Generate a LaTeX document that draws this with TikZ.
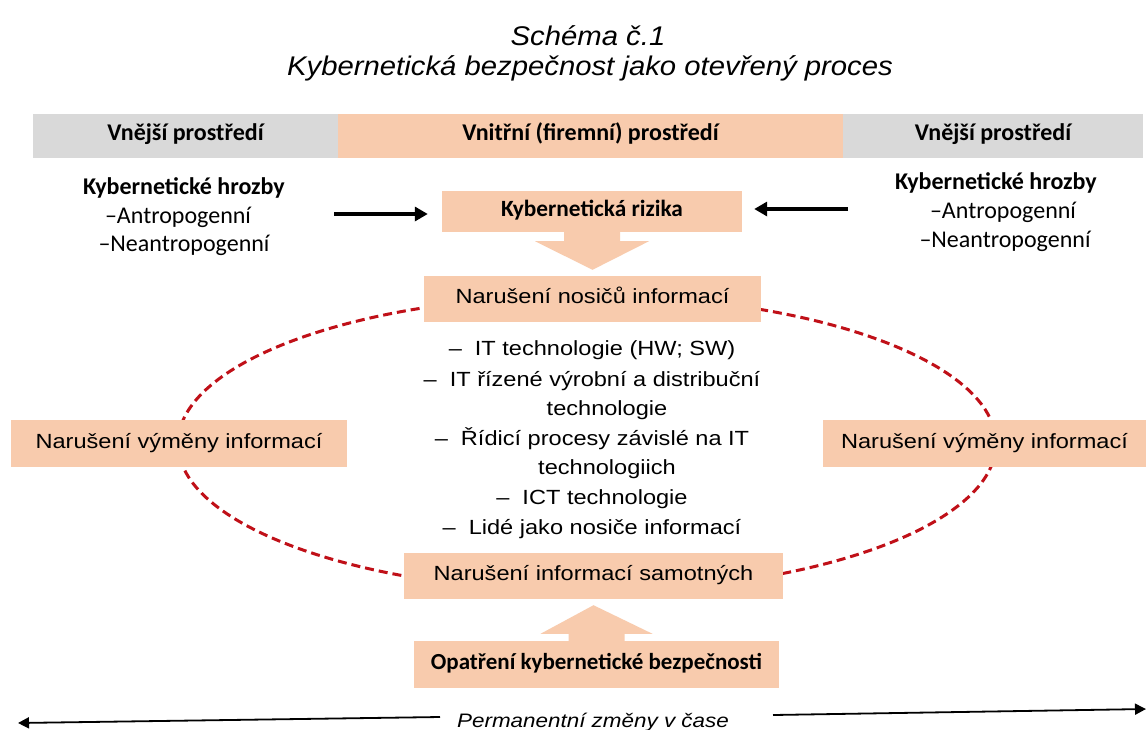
\documentclass[tikz,border=0pt]{standalone}
\usepackage{fontspec}
\setmainfont{Liberation Sans}
\newfontfamily\arx[FakeStretch=1.15]{Liberation Sans}
\newfontfamily\arxt[FakeStretch=1.085]{Liberation Sans}
\newfontfamily\cbr{Carlito}
\usetikzlibrary{arrows.meta,calc}
\definecolor{peach}{RGB}{248,203,173}
\definecolor{hgray}{RGB}{217,217,217}
\definecolor{dred}{RGB}{192,16,24}
\begin{document}
\begin{tikzpicture}[x=1pt,y=-1pt,
  pbox/.style={fill=peach, inner sep=0pt, text height=0.95em, text depth=0em},
  gbox/.style={fill=hgray, inner sep=0pt, text height=0.95em, text depth=0em},
  afont/.style={font=\arx\fontsize{20.5}{24}\selectfont},
  cbold/.style={font=\cbr\bfseries\fontsize{24}{28}\selectfont},
  cbolds/.style={font=\cbr\bfseries\fontsize{23.3}{28}\selectfont},
  creg/.style={font=\cbr\fontsize{24}{28}\selectfont, anchor=base, inner sep=0pt},
  cbase/.style={font=\cbr\bfseries\fontsize{24}{28}\selectfont, anchor=base, inner sep=0pt},
  ltxt/.style={font=\arx\fontsize{20.5}{24}\selectfont, anchor=base, inner sep=0pt},
  ttl/.style={font=\arxt\itshape\fontsize{27}{32}\selectfont, anchor=base, inner sep=0pt},
  thrarrow/.style={line width=3.5pt, -{Triangle[length=13pt,width=14pt]}},
  timearrow/.style={line width=1.8pt, -{Triangle[length=11pt,width=11pt]}},
  ring/.style={dred, line width=3pt, dash pattern=on 9pt off 5pt}
]
\useasboundingbox (0,0) rectangle (1148,729);
\fill[white] (0,0) rectangle (1148,729);

% title
\node[ttl] (t1) at (588,45) {Schéma č.1};
\node[ttl] (t2) at (590,75) {Kybernetická bezpečnost jako otevřený proces};

% header bar
\node[gbox, cbold, minimum width=305pt, minimum height=44pt] (hl) at (185.5,136) {Vnější prostředí};
\node[pbox, cbold, minimum width=505pt, minimum height=44pt] (hm) at (590.5,136) {Vnitřní (firemní) prostředí};
\node[gbox, cbold, minimum width=300pt, minimum height=44pt] (hr) at (993,136) {Vnější prostředí};

% threats left
\node[cbase] (tl1) at (184,194) {Kybernetické hrozby};
\node[creg] (tl2) at (178,223) {–Antropogenní};
\node[creg] (tl3) at (184,251) {–Neantropogenní};
% threats right
\node[cbase] (tr1) at (996,189) {Kybernetické hrozby};
\node[creg] (tr2) at (1003,218) {–Antropogenní};
\node[creg] (tr3) at (1005,247) {–Neantropogenní};

% ring
\coordinate (rc) at (587,443.5);
\draw[ring] (rc) ellipse [x radius=409pt, y radius=148pt];

% boxes
\node[pbox, cbolds, minimum width=300pt, minimum height=41pt] (riz) at (592,211.5) {Kybernetická rizika};
\node[pbox, afont, minimum width=337pt, minimum height=46pt] (nos) at (592.5,299) {Narušení nosičů informací};
\node[pbox, afont, minimum width=336pt, minimum height=47pt] (vl) at (179,443.5) {Narušení výměny informací};
\node[pbox, afont, minimum width=323pt, minimum height=47pt] (vr) at (984.5,443.5) {Narušení výměny informací};
\node[pbox, afont, minimum width=379pt, minimum height=46pt] (sam) at (593.5,576) {Narušení informací samotných};
\node[pbox, font=\cbr\bfseries\fontsize{23}{28}\selectfont, minimum width=365pt, minimum height=47pt] (opa) at (596.5,664.5) {Opatření kybernetické bezpečnosti};

% threat arrows
\coordinate (la) at (334,214);
\coordinate (ra) at (848,209);
\draw[thrarrow, shorten >=14pt] (la) -- (la -| riz.west);
\draw[thrarrow, shorten >=12pt] (ra) -- (ra -| riz.east);

% block arrow down
\fill[peach] ($(riz.south)+(-28,-1)$) -- ($(riz.south)+(-28,9)$) -- ($(riz.south)+(-57,9)$)
  -- ($(nos.north)+(0,-6)$) -- ($(riz.south)+(57,9)$) -- ($(riz.south)+(28,9)$)
  -- ($(riz.south)+(28,-1)$) -- cycle;
% block arrow up
\fill[peach] ($(opa.north)+(-28,1)$) -- ($(opa.north)+(-28,-7)$) -- ($(opa.north)+(-56,-7)$)
  -- ($(sam.south)+(0,6)$) -- ($(opa.north)+(56,-7)$) -- ($(opa.north)+(28,-7)$)
  -- ($(opa.north)+(28,1)$) -- cycle;

% list
\node[ltxt] (li1) at (592,355) {–\hspace{13pt}IT technologie (HW; SW)};
\node[ltxt] (li2) at (592,386) {–\hspace{13pt}IT řízené výrobní a distribuční};
\node[ltxt] (li3) at (607,415) {technologie};
\node[ltxt] (li4) at (592,445) {–\hspace{13pt}Řídicí procesy závislé na IT};
\node[ltxt] (li5) at (607,474) {technologiich};
\node[ltxt] (li6) at (592,504) {–\hspace{13pt}ICT technologie};
\node[ltxt] (li7) at (592,534) {–\hspace{13pt}Lidé jako nosiče informací};

% time axis
\node[font=\arx\itshape\fontsize{19.5}{23}\selectfont, anchor=base, inner sep=0pt] (perm) at (593,727) {Permanentní změny v čase};
\coordinate (bl1) at (440,717);
\coordinate (bl2) at (18,723);
\coordinate (br1) at (773,715);
\coordinate (br2) at (1146,709);
\draw[timearrow] (bl1) -- (bl2);
\draw[timearrow] (br1) -- (br2);
\end{tikzpicture}
\end{document}
